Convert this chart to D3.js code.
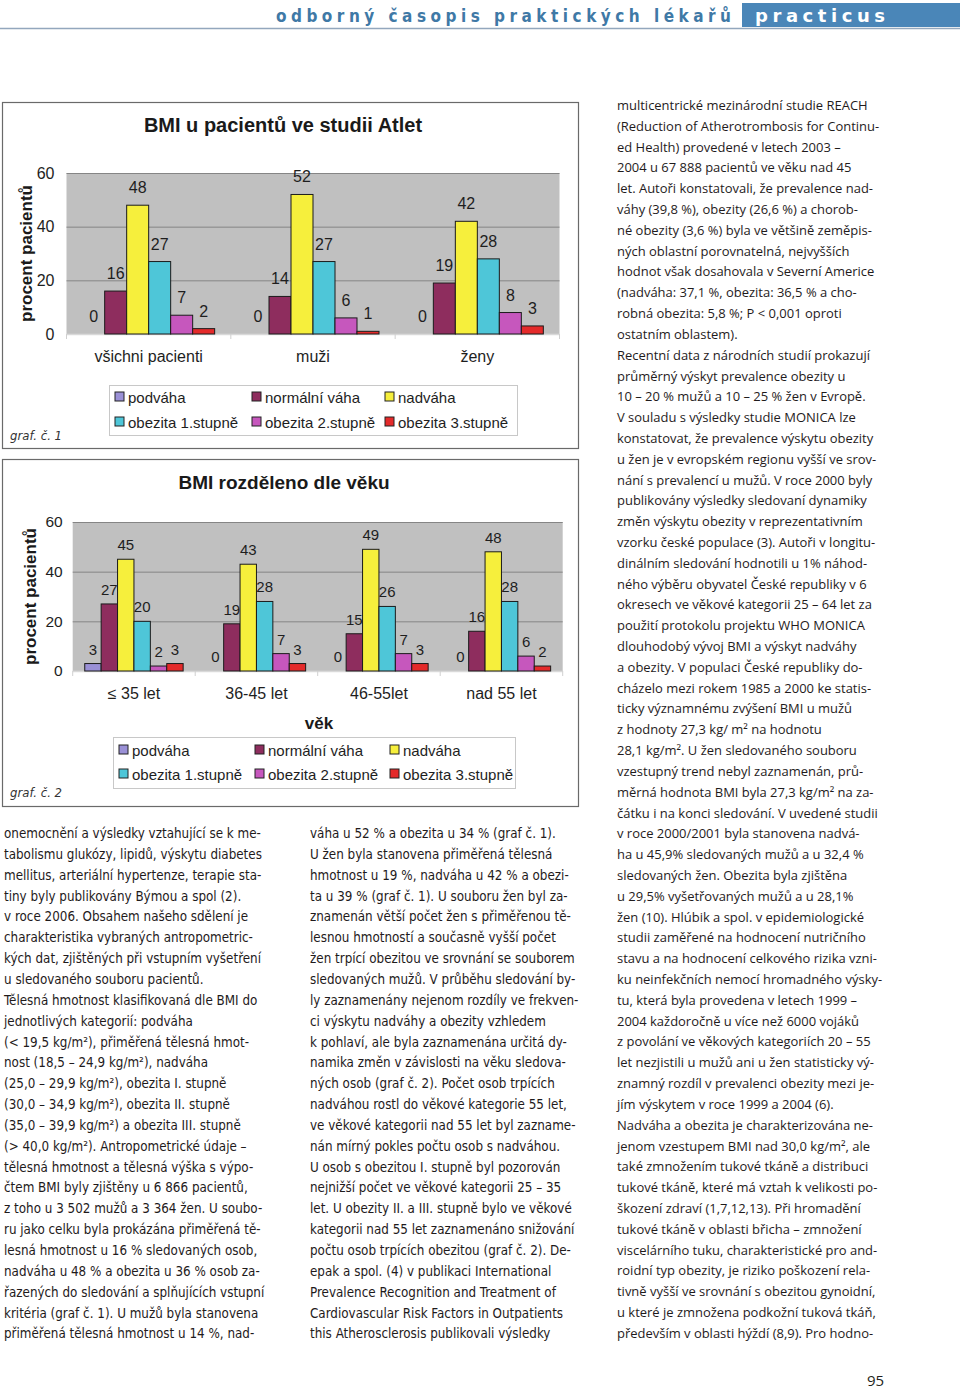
<!DOCTYPE html>
<html><head><meta charset="utf-8">
<script src="https://cdn.jsdelivr.net/npm/d3@7"></script>
<style>body{margin:0;background:#fff} svg{display:block}</style>
</head><body><svg id="page" width="960" height="1390"></svg>
<script>
// ---------- DATA ----------
const seriesNames = ["podváha","normální váha","nadváha","obezita 1.stupně","obezita 2.stupně","obezita 3.stupně"];
const seriesColors = ["#9a90d6","#8e2d5e","#f6ef3c","#4ec6d8","#c657bd","#e42a2a"];
const yTicks = [0,20,40,60];

// graf č. 1
const cats1 = ["všichni pacienti","muži","ženy"];
const podvaha1 = [0,0,0];
const normalni1 = [16,14,19];
const nadvaha1 = [48,52,42];
const obezita1st1 = [27,27,28];
const obezita2st1 = [7,6,8];
const obezita3st1 = [2,1,3];

// graf č. 2
const cats2 = ["≤ 35 let","36-45 let","46-55let","nad 55 let"];
const podvaha2 = [3,0,0,0];
const normalni2 = [27,19,15,16];
const nadvaha2 = [45,43,49,48];
const obezita1st2 = [20,28,26,28];
const obezita2st2 = [2,7,7,6];
const obezita3st2 = [3,3,3,2];

// ---------- TEXT ----------
const col1Lines = [
"onemocnění a výsledky vztahující se k me-",
"tabolismu glukózy, lipidů, výskytu diabetes",
"mellitus, arteriální hypertenze, terapie sta-",
"tiny byly publikovány Býmou a spol (2).",
"v roce 2006. Obsahem našeho sdělení je",
"charakteristika vybraných antropometric-",
"kých dat, zjištěných při vstupním vyšetření",
"u sledovaného souboru pacientů.",
"Tělesná hmotnost klasifikovaná dle BMI do",
"jednotlivých kategorií: podváha",
"(< 19,5 kg/m²), přiměřená tělesná hmot-",
"nost (18,5 – 24,9 kg/m²), nadváha",
"(25,0 – 29,9 kg/m²), obezita I. stupně",
"(30,0 – 34,9 kg/m²), obezita II. stupně",
"(35,0 – 39,9 kg/m²) a obezita III. stupně",
"(> 40,0 kg/m²). Antropometrické údaje –",
"tělesná hmotnost a tělesná výška s výpo-",
"čtem BMI byly zjištěny u 6 866 pacientů,",
"z toho u 3 502 mužů a 3 364 žen. U soubo-",
"ru jako celku byla prokázána přiměřená tě-",
"lesná hmotnost u 16 % sledovaných osob,",
"nadváha u 48 % a obezita u 36 % osob za-",
"řazených do sledování a splňujících vstupní",
"kritéria (graf č. 1). U mužů byla stanovena",
"přiměřená tělesná hmotnost u 14 %, nad-"];
const col2Lines = [
"váha u 52 % a obezita u 34 % (graf č. 1).",
"U žen byla stanovena přiměřená tělesná",
"hmotnost u 19 %, nadváha u 42 % a obezi-",
"ta u 39 % (graf č. 1). U souboru žen byl za-",
"znamenán větší počet žen s přiměřenou tě-",
"lesnou hmotností a současně vyšší počet",
"žen trpící obezitou ve srovnání se souborem",
"sledovaných mužů. V průběhu sledování by-",
"ly zaznamenány nejenom rozdíly ve frekven-",
"ci výskytu nadváhy a obezity vzhledem",
"k pohlaví, ale byla zaznamenána určitá dy-",
"namika změn v závislosti na věku sledova-",
"ných osob (graf č. 2). Počet osob trpících",
"nadváhou rostl do věkové kategorie 55 let,",
"ve věkové kategorii nad 55 let byl zazname-",
"nán mírný pokles počtu osob s nadváhou.",
"U osob s obezitou I. stupně byl pozorován",
"nejnižší počet ve věkové kategorii 25 – 35",
"let. U obezity II. a III. stupně bylo ve věkové",
"kategorii nad 55 let zaznamenáno snižování",
"počtu osob trpících obezitou (graf č. 2). De-",
"epak a spol. (4) v publikaci International",
"Prevalence Recognition and Treatment of",
"Cardiovascular Risk Factors in Outpatients",
"this Atherosclerosis publikovali výsledky"];
const col3Lines = [
"multicentrické mezinárodní studie REACH",
"(Reduction of Atherotrombosis for Continu-",
"ed Health) provedené v letech 2003 –",
"2004 u 67 888 pacientů ve věku nad 45",
"let. Autoři konstatovali, že prevalence nad-",
"váhy (39,8 %), obezity (26,6 %) a chorob-",
"né obezity (3,6 %) byla ve většině zeměpis-",
"ných oblastní porovnatelná, nejvyšších",
"hodnot však dosahovala v Severní Americe",
"(nadváha: 37,1 %, obezita: 36,5 % a cho-",
"robná obezita: 5,8 %; P < 0,001 oproti",
"ostatním oblastem).",
"Recentní data z národních studií prokazují",
"průměrný výskyt prevalence obezity u",
"10 – 20 % mužů a 10 – 25 % žen v Evropě.",
"V souladu s výsledky studie MONICA lze",
"konstatovat, že prevalence výskytu obezity",
"u žen je v evropském regionu vyšší ve srov-",
"nání s prevalencí u mužů. V roce 2000 byly",
"publikovány výsledky sledovaní dynamiky",
"změn výskytu obezity v reprezentativním",
"vzorku české populace (3). Autoři v longitu-",
"dinálním sledování hodnotili u 1% náhod-",
"ného výběru obyvatel České republiky v 6",
"okresech ve věkové kategorii 25 – 64 let za",
"použití protokolu projektu WHO MONICA",
"dlouhodobý vývoj BMI a výskyt nadváhy",
"a obezity. V populaci České republiky do-",
"cházelo mezi rokem 1985 a 2000 ke statis-",
"ticky významnému zvýšení BMI u mužů",
"z hodnoty 27,3 kg/ m² na hodnotu",
"28,1 kg/m². U žen sledovaného souboru",
"vzestupný trend nebyl zaznamenán, prů-",
"měrná hodnota BMI byla 27,3 kg/m² na za-",
"čátku i na konci sledování. V uvedené studii",
"v roce 2000/2001 byla stanovena nadvá-",
"ha u 45,9% sledovaných mužů a u 32,4 %",
"sledovaných žen. Obezita byla zjištěna",
"u 29,5% vyšetřovaných mužů a u 28,1%",
"žen (10). Hlúbik a spol. v epidemiologické",
"studii zaměřené na hodnocení nutričního",
"stavu a na hodnocení celkového rizika vzni-",
"ku neinfekčních nemocí hromadného výsky-",
"tu, která byla provedena v letech 1999 –",
"2004 každoročně u více než 6000 vojáků",
"z povolání ve věkových kategoriích 20 – 55",
"let nezjistili u mužů ani u žen statisticky vý-",
"znamný rozdíl v prevalenci obezity mezi je-",
"jím výskytem v roce 1999 a 2004 (6).",
"Nadváha a obezita je charakterizována ne-",
"jenom vzestupem BMI nad 30,0 kg/m², ale",
"také zmnožením tukové tkáně a distribuci",
"tukové tkáně, které má vztah k velikosti po-",
"škození zdraví (1,7,12,13). Při hromadění",
"tukové tkáně v oblasti břicha – zmnožení",
"viscelárního tuku, charakteristické pro and-",
"roidní typ obezity, je riziko poškození rela-",
"tivně vyšší ve srovnání s obezitou gynoidní,",
"u které je zmnožena podkožní tuková tkáň,",
"především v oblasti hýždí (8,9). Pro hodno-"];

// ---------- DRAW ----------
const svg = d3.select("#page");
const CHART_FONT = "'Liberation Sans', Arial, sans-serif";

// header
svg.append("rect").attr("x",742).attr("y",3).attr("width",218).attr("height",24).attr("fill","#4a86b8");
svg.append("line").attr("x1",0).attr("x2",960).attr("y1",28.5).attr("y2",28.5).attr("stroke","#93a7bd").attr("stroke-width",1.6);
svg.append("text").attr("x",276).attr("y",22).attr("textLength",455).attr("lengthAdjust","spacing")
  .style("font-family","'DejaVu Sans Condensed','Liberation Sans Narrow',sans-serif").style("font-weight","bold")
  .style("font-size","17px").attr("fill","#3f79a6").text("odborný časopis praktických lékařů");
svg.append("text").attr("x",755).attr("y",22).attr("textLength",130).attr("lengthAdjust","spacing")
  .style("font-family","'DejaVu Sans',sans-serif").style("font-weight","bold")
  .style("font-size","18px").attr("fill","#ffffff").text("practicus");

function drawChart(cfg) {
  const g = svg.append("g");
  g.append("rect").attr("x",cfg.frame[0]+0.5).attr("y",cfg.frame[1]+0.5)
    .attr("width",cfg.frame[2]-cfg.frame[0]).attr("height",cfg.frame[3]-cfg.frame[1])
    .attr("fill","#fff").attr("stroke","#6a6a6a").attr("stroke-width",1.2);
  g.append("text").attr("x",cfg.titleX).attr("y",cfg.titleY).attr("text-anchor","middle")
    .style("font-family",CHART_FONT).style("font-weight","bold").style("font-size",cfg.titleSize+"px")
    .attr("fill","#1a1a1a").text(cfg.title);

  const x0 = d3.scaleBand().domain(cfg.cats).range([cfg.plot.l,cfg.plot.r]);
  const x1 = d3.scaleBand().domain(seriesNames).range([0,x0.bandwidth()]).paddingOuter(0.735);
  const y = d3.scaleLinear().domain([0,60]).range([cfg.plot.b,cfg.plot.t]);

  g.append("rect").attr("x",cfg.plot.l).attr("y",cfg.plot.t).attr("width",cfg.plot.r-cfg.plot.l)
    .attr("height",cfg.plot.b-cfg.plot.t).attr("fill","#c0c0c0");
  g.selectAll(".grid").data(yTicks.filter(v=>v>0)).join("line")
    .attr("x1",cfg.plot.l).attr("x2",cfg.plot.r).attr("y1",d=>y(d)+0.5).attr("y2",d=>y(d)+0.5)
    .attr("stroke","#858585").attr("stroke-width",1);
  g.append("line").attr("x1",cfg.plot.l).attr("x2",cfg.plot.r).attr("y1",y(0)+0.5).attr("y2",y(0)+0.5)
    .attr("stroke","#d9d9d9").attr("stroke-width",1.5);
  const bounds = cfg.cats.map(c=>x0(c)).concat([cfg.plot.r]);
  g.selectAll(".ctick").data(bounds).join("line")
    .attr("x1",d=>d).attr("x2",d=>d).attr("y1",y(0)).attr("y2",y(0)+5)
    .attr("stroke","#d0d0d0").attr("stroke-width",1);

  // y axis
  const ya = g.append("g").attr("transform",`translate(${cfg.plot.l},0)`)
    .call(d3.axisLeft(y).tickValues(yTicks).tickSize(0).tickPadding(cfg.yPad));
  ya.select(".domain").remove();
  ya.selectAll("text").style("font-family",CHART_FONT).style("font-size",cfg.tickSize+"px").attr("fill","#1e1e1e");
  // x axis
  const xa = g.append("g").attr("transform",`translate(0,${y(0)})`)
    .call(d3.axisBottom(x0).tickSize(0).tickPadding(cfg.xPad));
  xa.select(".domain").remove();
  xa.selectAll("text").style("font-family",CHART_FONT).style("font-size",cfg.catSize+"px").attr("fill","#1e1e1e");

  g.append("text").attr("transform",`translate(${cfg.yTitleX},${(y(0)+y(60))/2}) rotate(-90)`)
    .attr("text-anchor","middle").style("font-family",CHART_FONT).style("font-weight","bold")
    .style("font-size",cfg.yTitleSize+"px").attr("fill","#1a1a1a").text("procent pacientů");

  const rows = [];
  cfg.cats.forEach((c,i)=>seriesNames.forEach((s,j)=>rows.push({c,s,j,v:cfg.values[j][i]})));
  const bars = g.append("g");
  bars.selectAll("rect").data(rows.filter(d=>d.v>0)).join("rect")
    .attr("x",d=>x0(d.c)+x1(d.s)).attr("width",x1.bandwidth())
    .attr("y",d=>y(d.v)).attr("height",d=>y(0)-y(d.v))
    .attr("fill",d=>seriesColors[d.j]).attr("stroke","#1b1b1b").attr("stroke-width",1);
  bars.selectAll("text").data(rows).join("text")
    .attr("x",d=>x0(d.c)+x1(d.s)+x1.bandwidth()/2).attr("y",d=>y(d.v)-cfg.labGap)
    .attr("text-anchor","middle").style("font-family",CHART_FONT).style("font-size",cfg.labSize+"px")
    .attr("fill","#1e1e1e").text(d=>d.v);

  if (cfg.xTitle) {
    g.append("text").attr("x",cfg.xTitle[0]).attr("y",cfg.xTitle[1]).attr("text-anchor","middle")
      .style("font-family",CHART_FONT).style("font-weight","bold").style("font-size","17px")
      .attr("fill","#1a1a1a").text("věk");
  }

  // legend
  const L = cfg.legend;
  g.append("rect").attr("x",L.x+0.5).attr("y",L.y+0.5).attr("width",L.w).attr("height",L.h)
    .attr("fill","#fff").attr("stroke","#c8c8c8");
  const li = g.selectAll(".leg").data(seriesNames).join("g")
    .attr("transform",(d,i)=>`translate(${L.cols[i%3]},${L.rows[Math.floor(i/3)]})`);
  li.append("rect").attr("x",0).attr("y",-5).attr("width",9).attr("height",9)
    .attr("fill",(d,i)=>seriesColors[i]).attr("stroke","#222").attr("stroke-width",1);
  li.append("text").attr("x",13).attr("y",5.5).style("font-family",CHART_FONT).style("font-size",L.size+"px")
    .attr("fill","#1e1e1e").text(d=>d);

  g.append("text").attr("x",10).attr("y",cfg.grafY).style("font-family","'Liberation Sans Narrow','DejaVu Sans Condensed',sans-serif")
    .style("font-style","italic").style("font-size","13px").attr("fill","#333").text(cfg.grafLabel);
}

drawChart({
  frame:[2,102,578,448], title:"BMI u pacientů ve studii Atlet", titleX:283, titleY:132, titleSize:20,
  cats:cats1, values:[podvaha1,normalni1,nadvaha1,obezita1st1,obezita2st1,obezita3st1],
  plot:{l:66.5,r:559.5,t:173,b:334}, yPad:12, xPad:17, tickSize:16, catSize:16, labSize:16, labGap:12,
  yTitleX:32, yTitleSize:17,
  legend:{x:109,y:385,w:408,h:50,cols:[115,252,385],rows:[397,422],size:15},
  grafY:440, grafLabel:"graf. č. 1"
});
drawChart({
  frame:[2,459,578,806], title:"BMI  rozděleno dle věku", titleX:284, titleY:489, titleSize:19,
  cats:cats2, values:[podvaha2,normalni2,nadvaha2,obezita1st2,obezita2st2,obezita3st2],
  plot:{l:72.7,r:562.7,t:522,b:671}, yPad:10, xPad:17, tickSize:15.5, catSize:16, labSize:15, labGap:9,
  yTitleX:36, yTitleSize:17, xTitle:[319,729],
  legend:{x:113,y:737,w:402,h:51,cols:[119,255,390],rows:[750,774],size:15},
  grafY:797, grafLabel:"graf. č. 2"
});

// body text columns
function drawColumn(lines, x, y0, lh, family, refIdx, target) {
  const g = svg.append("g").style("font-family",family).attr("fill","#1f1b1c");
  const probe = g.append("text").style("font-size","14px").text(lines[refIdx]);
  const w = probe.node().getComputedTextLength();
  probe.remove();
  const fs = 14*target/w;
  g.style("font-size",fs+"px");
  g.selectAll("text").data(lines).join("text").attr("x",x).attr("y",(d,i)=>y0+i*lh).text(d=>d);
}
const NARROW = "'Liberation Sans Narrow','DejaVu Sans Condensed',sans-serif";
drawColumn(col1Lines, 4, 838, 20.85, NARROW, 1, 258);
drawColumn(col2Lines, 310, 838, 20.85, NARROW, 6, 265);
drawColumn(col3Lines, 617, 110, 20.81, "'Open Sans',sans-serif", 0, 251);

svg.append("text").attr("x",867).attr("y",1386).style("font-family","'Open Sans',sans-serif")
  .style("font-size","15px").attr("fill","#231f20").text("95");
</script></body></html>
